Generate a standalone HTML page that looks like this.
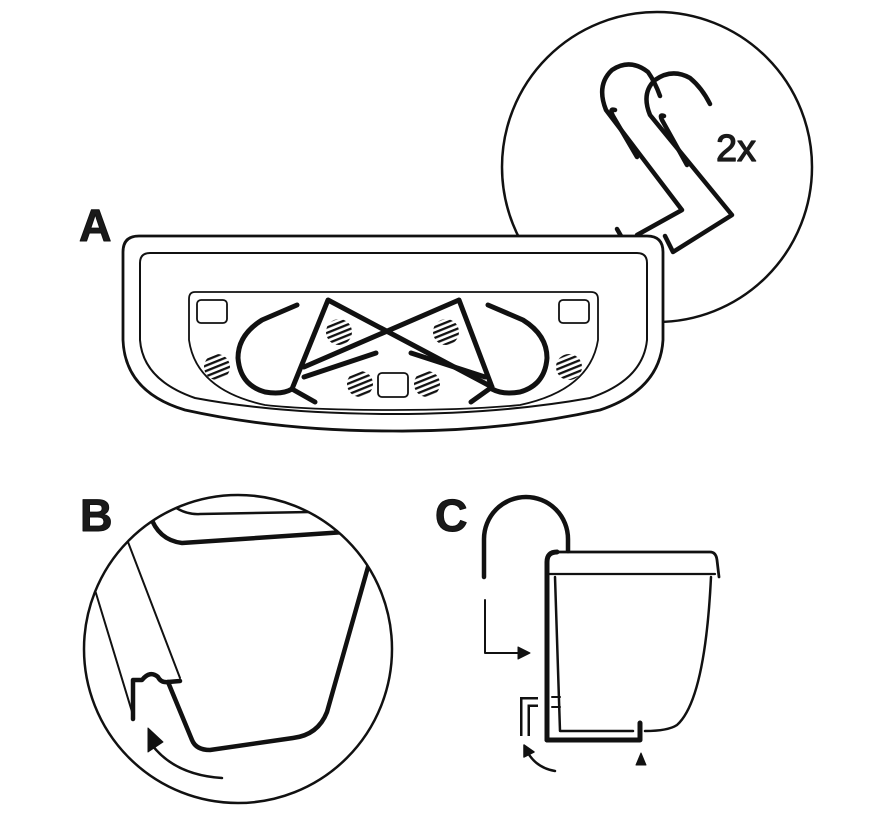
<!DOCTYPE html>
<html><head><meta charset="utf-8"><style>
html,body{margin:0;padding:0;background:#fff;}
svg{display:block;}
text{font-family:"Liberation Sans",sans-serif;fill:#1a1a1a;}
</style></head><body>
<svg width="890" height="820" viewBox="0 0 890 820" xmlns="http://www.w3.org/2000/svg">
<defs>
<pattern id="h" width="6" height="5" patternUnits="userSpaceOnUse" patternTransform="rotate(-22)">
<rect width="6" height="2.3" fill="#111"/>
</pattern>
<clipPath id="cb"><circle cx="238" cy="649" r="154"/></clipPath>
</defs>
<g fill="none" stroke="#111" stroke-linecap="round" stroke-linejoin="round">

<circle cx="657" cy="167" r="155" stroke-width="2.5" fill="#fff"/>
<g stroke-width="4.5">
<path d="M617,229 L621,236"/>
<path d="M637,235 L682,210 L606,110 Q596,85 612,70 Q630,58 648,72 Q655,82 660,96"/>
<path d="M637,157 L613,116 Q609,108 615,110"/>
<path d="M665,236 L673,252 L732,215 L650,115 Q641,93 655,80 Q672,68 690,78 Q702,88 710,104"/>
<path d="M687,165 L662,120 Q659,114 664,116"/>
</g>
<text x="716" y="161" font-size="38" stroke="#1a1a1a" stroke-width="1.2">2x</text>

<path d="M139,236 H647 Q663,236 663,252 V340 Q660,390 600,410 Q500,432 393,431 Q280,431 185,410 Q125,392 123,340 V252 Q123,236 139,236 Z" fill="#fff" stroke-width="2.8"/>
<path d="M150,253 H637 Q647,253 647,263 V340 Q643,380 590,398 Q500,414 393,414 Q280,414 195,398 Q143,380 140,340 V263 Q140,253 150,253 Z" stroke-width="2"/>
<path d="M195,292 H591 Q598,292 598,299 V340 Q590,390 520,405 Q470,410 393,410 Q310,410 265,405 Q196,390 189,340 V299 Q189,292 195,292 Z" stroke-width="1.8"/>
<rect x="197" y="300" width="30" height="23" rx="4" stroke-width="1.8"/>
<rect x="559" y="300" width="30" height="23" rx="4" stroke-width="1.8"/>
<rect x="378" y="373" width="30" height="24" rx="4" stroke-width="1.8"/>
<g stroke="none" fill="url(#h)">
<circle cx="339" cy="332" r="13"/><circle cx="446" cy="332" r="13"/>
<circle cx="217" cy="367" r="13"/><circle cx="569" cy="367" r="13"/>
<circle cx="360" cy="384" r="13"/><circle cx="427" cy="384" r="13"/>
</g>
<g stroke-width="5">
<path d="M297,305 L262,320 Q238,335 238,358 Q240,385 265,392 Q282,395 292,389"/>
<path d="M488,305 L523,320 Q547,335 547,358 Q545,385 520,392 Q503,395 492,389"/>
<path d="M292,389 L328,300 L492,387 L459,300 L304,367"/>
<path d="M304,377 L376,353"/>
<path d="M411,353 L485,377"/>
<path d="M292,389 L315,402"/>
<path d="M492,387 L471,402"/>
</g>
<text x="79" y="241" font-size="45" font-weight="bold">A</text>

<text x="80" y="531" font-size="45" font-weight="bold">B</text>
<circle cx="238" cy="649" r="154" stroke-width="2.5"/>
<g clip-path="url(#cb)">
<path d="M172,505 Q185,515 200,514 L310,512" stroke-width="2.5"/>
<path d="M150,515 Q158,540 182,543 L345,532" stroke-width="4.5"/>
<path d="M370,560 L327,712 Q318,735 293,738 L210,750 Q196,750 192,740 L168,682" stroke-width="4.5"/>
<path d="M95,590 L133,715" stroke-width="2"/>
<path d="M128,542 L180,678" stroke-width="2"/>
<path d="M133,719 V680 H142 Q150,670 158,677 Q161,683 168,682 L180,681" stroke-width="4.5"/>
<path d="M222,778 Q175,775 152,745" stroke-width="2.5"/>
<path d="M148,728 L148,752 L163,742 Z" fill="#111" stroke-width="1"/>
</g>

<text x="435" y="531" font-size="45" font-weight="bold">C</text>
<path d="M484,577 V539 A42,42 0 0 1 568,539 V551" stroke-width="4.5"/>
<path d="M485,600 V653 H520" stroke-width="2"/>
<path d="M518,647 L530,653 L518,659 Z" fill="#111" stroke-width="1"/>
<path d="M553,552 H710 Q716,552 717,560 L719,577" stroke-width="2.8"/>
<path d="M549,574 H715" stroke-width="2.2"/>
<path d="M711,577 Q705,700 677,725 Q668,731 645,731" stroke-width="2.5"/>
<path d="M555,577 L560,731 H633" stroke-width="2.5"/>
<path d="M547,740 V562 Q547,552 557,552" stroke-width="5"/>
<path d="M547,740 H640 V723" stroke-width="5"/>
<path d="M538,702 H525 V736" stroke-width="10" stroke-linecap="butt" stroke-linejoin="miter"/>
<path d="M540,702 H525 V739" stroke="#fff" stroke-width="5" stroke-linecap="butt" stroke-linejoin="miter"/>
<path d="M552,697 H560 M552,707 H560" stroke-width="2"/>
<path d="M636,765 L646,765 L641,753 Z" fill="#111" stroke-width="1"/>
<path d="M555,771 Q537,768 528,753" stroke-width="2.5"/>
<path d="M524,745 L524,757 L534,752 Z" fill="#111" stroke-width="1.5"/>
</g>
</svg>
</body></html>
